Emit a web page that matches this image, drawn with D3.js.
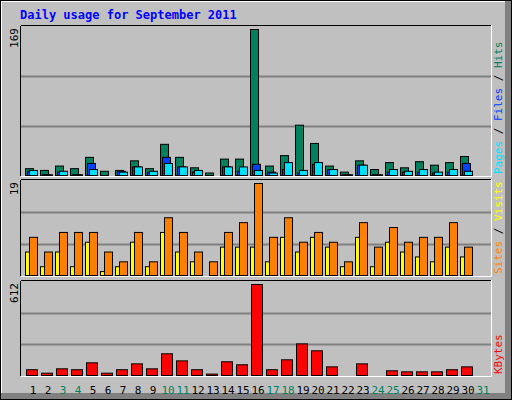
<!DOCTYPE html>
<html><head><meta charset="utf-8">
<script src="https://cdn.jsdelivr.net/npm/d3@7"></script>
<style>body{margin:0;background:#fff}svg{display:block}</style>
</head><body>
<script>
var days = d3.range(1, 32);
var weekends = [3, 4, 10, 11, 17, 18, 24, 25, 31];
var hits   = [9,7,12,9,22,6,7,18,9,37,22,10,4,20,20,169,12,24,59,38,12,5,18,8,16,10,17,13,16,23,0];
var files  = [6,2,5,2,15,1,6,11,5,22,11,5,0,11,6,14,5,8,4,14,8,2,13,2,5,5,5,4,5,15,0];
var pages  = [7,2,6,2,8,1,5,11,6,15,11,7,0,11,11,7,4,16,7,16,8,2,13,2,8,6,8,5,8,6,0];
var sites  = [5,2,5,2,7,1,2,7,2,9,5,3,0,6,6,6,3,8,5,8,6,2,8,2,7,5,4,3,6,4,0];
var visits = [8,5,9,9,9,5,3,9,3,12,9,5,3,9,11,19,8,12,7,9,7,3,11,6,10,7,8,8,11,6,0];
var kbytes = [45,22,51,45,91,22,45,84,51,151,104,45,16,98,78,612,45,111,217,171,64,5,84,5,38,31,31,31,45,64,0];

var W = 512, H = 400;
var svg = d3.select("body").append("svg").attr("width", W).attr("height", H);
var mono = "DejaVu Sans Mono, monospace";

// frame
svg.append("rect").attr("width", W).attr("height", H).attr("fill", "#c0c0c0");
svg.append("rect").attr("x", 0.5).attr("y", 0.5).attr("width", W - 1).attr("height", H - 1).attr("fill", "none").attr("stroke", "#000");
svg.append("rect").attr("x", 505).attr("y", 1).attr("width", 6).attr("height", H - 2).attr("fill", "#808080");
svg.append("rect").attr("x", 1).attr("y", 393).attr("width", W - 2).attr("height", 6).attr("fill", "#808080");
svg.append("line").attr("x1", 1).attr("x2", 505).attr("y1", 1.5).attr("y2", 1.5).attr("stroke", "#fff");
svg.append("line").attr("x1", 1.5).attr("x2", 1.5).attr("y1", 1).attr("y2", 393).attr("stroke", "#fff");

svg.append("text").attr("x", 20).attr("y", 19).attr("font-family", mono).attr("font-weight", "bold")
  .attr("font-size", 12).attr("fill", "#0000ff").text("Daily usage for September 2011");

var x = d3.scaleBand().domain(days).range([25, 490]).paddingInner(0).paddingOuter(0);

var panels = [
  { top: 26, bottom: 176, max: 169, series: [[hits, "#00805c", 0, 8], [files, "#0040ff", 2, 8], [pages, "#00e0ff", 4, 8]],
    labels: [["Pages", "#00e0ff"], ["Files", "#0040ff"], ["Hits", "#00805c"]] },
  { top: 180, bottom: 276, max: 19, series: [[sites, "#ffff00", 0, 8], [visits, "#ff8000", 4, 8]],
    labels: [["Sites", "#ff8000"], ["Visits", "#ffff00"]] },
  { top: 281, bottom: 376, max: 612, series: [[kbytes, "#ff0000", 1, 11]],
    labels: [["KBytes", "#ff0000"]] }
];

panels.forEach(function (p) {
  var g = svg.append("g");
  g.append("rect").attr("x", 21).attr("y", p.top).attr("width", 470).attr("height", p.bottom - p.top).attr("fill", "#c0c0c0");
  g.append("line").attr("x1", 21).attr("x2", 491).attr("y1", p.top - 0.5).attr("y2", p.top - 0.5).attr("stroke", "#000");
  g.append("line").attr("x1", 20.5).attr("x2", 20.5).attr("y1", p.top).attr("y2", p.bottom).attr("stroke", "#000");
  g.append("line").attr("x1", 21).attr("x2", 492).attr("y1", p.bottom + 0.5).attr("y2", p.bottom + 0.5).attr("stroke", "#fff");
  g.append("line").attr("x1", 491.5).attr("x2", 491.5).attr("y1", p.top - 1).attr("y2", p.bottom + 1).attr("stroke", "#fff");
  var h = p.bottom - p.top;
  [1 / 3, 2 / 3].forEach(function (f) {
    var yy = Math.round(p.bottom - h * f) + 0.5;
    g.append("line").attr("x1", 21).attr("x2", 491).attr("y1", yy).attr("y2", yy).attr("stroke", "#808080").attr("stroke-width", 2);
  });
  var y = d3.scaleLinear().domain([0, p.max]).range([p.bottom, p.top + 3]);
  p.series.forEach(function (s) {
    g.selectAll(null).data(days.filter(function (d, i) { return s[0][i] > 0; })).join("rect")
      .attr("x", function (d) { return x(d) + s[2] + 0.5; })
      .attr("y", function (d) { return y(s[0][d - 1]) + 0.5; })
      .attr("width", s[3])
      .attr("height", function (d) { return Math.max(0, p.bottom - y(s[0][d - 1]) - 1); })
      .attr("fill", s[1]).attr("stroke", "#000");
  });
  g.append("text").attr("transform", "translate(18," + (p.top + 2) + ") rotate(-90)")
    .attr("text-anchor", "end").attr("font-family", mono).attr("font-size", 11).text(p.max);
  var t = g.append("text").attr("transform", "translate(502," + (p.bottom - 2) + ") rotate(-90)")
    .attr("font-family", mono).attr("font-size", 11);
  p.labels.forEach(function (l, i) {
    if (i > 0) t.append("tspan").attr("fill", "#000").text(" / ");
    t.append("tspan").attr("fill", l[1]).text(l[0]);
  });
});

svg.append("g").selectAll("text").data(days).join("text")
  .attr("x", function (d) { return x(d) + 8; }).attr("y", 394)
  .attr("text-anchor", "middle").attr("font-family", mono).attr("font-size", 11)
  .attr("fill", function (d) { return weekends.indexOf(d) >= 0 ? "#00805c" : "#000"; })
  .text(function (d) { return d; });
</script>
</body></html>
